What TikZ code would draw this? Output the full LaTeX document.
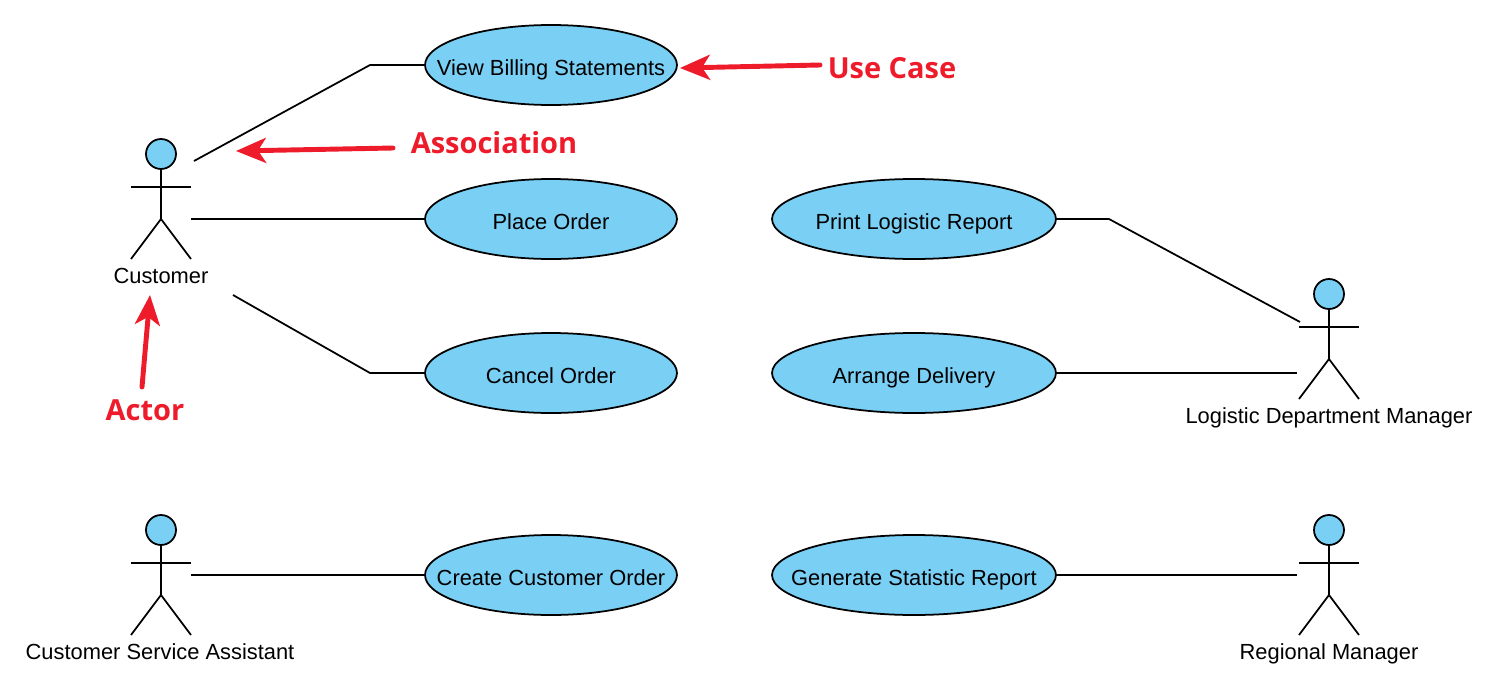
\documentclass[tikz,border=0pt]{standalone}
\usepackage{fontspec}
\setmainfont{Liberation Sans}
\newfontfamily\notefont{Open Sans}
\usetikzlibrary{shapes.geometric,arrows.meta}
\definecolor{caseblue}{HTML}{7ACFF5}
\definecolor{notered}{HTML}{EE1C2B}
\newcommand{\casetext}[1]{\smash{\raisebox{-6pt}{\makebox[0pt]{#1}}}}
\tikzset{
	usecase/.style={ellipse, fill=caseblue, draw=black, line width=1pt, inner sep=0pt, outer sep=0pt, minimum width=#1, minimum height=1.6cm, font=\fontsize{12.45}{14}\selectfont},
	usecase/.default=5.04cm,
	actorname/.style={anchor=base, inner sep=0pt, font=\fontsize{12.45}{14}\selectfont},
	assoc/.style={line width=1pt, color=black},
	notearrow/.style={-{Stealth[length=0.6cm,width=0.5cm,inset=0.16cm]}, line width=2.8pt, color=notered, line cap=round},
	notetext/.style={inner sep=0pt, text=notered, font=\notefont\bfseries\fontsize{16.5}{19}\selectfont},
	actorman/.pic={
		\draw[assoc, fill=caseblue] (0,-24) circle (15);
		\draw[assoc] (0,-9) -- (0,41);
		\draw[assoc] (-30,9) -- (30,9);
		\draw[assoc] (-30,81) -- (0,41) -- (30,81);
	}
}
\begin{document}
\begin{tikzpicture}[x=0.02cm, y=-0.02cm]
	\useasboundingbox (0,0) rectangle (1499,700);

	% actors
	\pic at (161,178) {actorman};
	\pic at (1329,318) {actorman};
	\pic at (161,554) {actorman};
	\pic at (1329,554) {actorman};
	\node[actorname](customerName) at (161,283){Customer};
	\node[actorname](logisticName) at (1329,423){Logistic Department Manager};
	\node[actorname](assistantName) at (160,659){Customer Service Assistant};
	\node[actorname](regionalName) at (1329,659){Regional Manager};

	% use cases
	\node[usecase](viewBilling) at (551,65){\casetext{View Billing Statements}};
	\node[usecase](placeOrder) at (551,219){\casetext{Place Order}};
	\node[usecase](cancelOrder) at (551,373){\casetext{Cancel Order}};
	\node[usecase](createOrder) at (551,575){\casetext{Create Customer Order}};
	\node[usecase=5.68cm](printReport) at (914,219){\casetext{Print Logistic Report}};
	\node[usecase=5.68cm](arrangeDelivery) at (914,373){\casetext{Arrange Delivery}};
	\node[usecase=5.68cm](generateReport) at (914,575){\casetext{Generate Statistic Report}};

	% free ends beside the actors
	\coordinate (customerTop) at (194,161);
	\coordinate (customerMid) at (191,219);
	\coordinate (customerLow) at (233,295);
	\coordinate (assistantEnd) at (191,575);
	\coordinate (logisticTop) at (1300,322);
	\coordinate (logisticLow) at (1297,373);
	\coordinate (regionalEnd) at (1297,575);
	\coordinate (viewBend) at (370,65);
	\coordinate (cancelBend) at (370,373);
	\coordinate (printBend) at (1109,219);

	\draw [assoc] (customerTop) -- (viewBend) -- (viewBilling.west);
	\draw [assoc] (customerMid) -- (placeOrder.west);
	\draw [assoc] (customerLow) -- (cancelBend) -- (cancelOrder.west);
	\draw [assoc] (assistantEnd) -- (createOrder.west);
	\draw [assoc] (printReport.east) -- (printBend) -- (logisticTop);
	\draw [assoc] (arrangeDelivery.east) -- (logisticLow);
	\draw [assoc] (generateReport.east) -- (regionalEnd);

	% red notes
	\node[notetext](useCaseNote) at (892,68){Use Case};
	\node[notetext](associationNote) at (494,143){Association};
	\node[notetext](actorNote) at (145,410){Actor};
	\coordinate (useCaseTip) at (680,68);
	\coordinate (useCaseTail) at (820,65);
	\coordinate (associationTip) at (236,151);
	\coordinate (associationTail) at (393,148);
	\coordinate (actorTip) at (150,295);
	\coordinate (actorTail) at (142,387);
	\draw [notearrow] (useCaseTail) -- (useCaseTip);
	\draw [notearrow] (associationTail) -- (associationTip);
	\draw [notearrow] (actorTail) -- (actorTip);
\end{tikzpicture}
\end{document}
